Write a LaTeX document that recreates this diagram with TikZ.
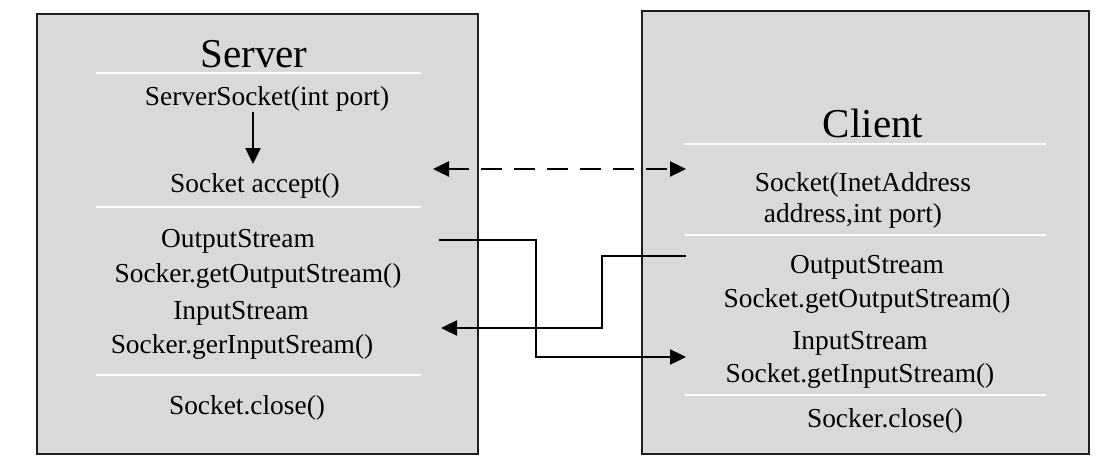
\documentclass[tikz,border=0pt]{standalone}
\usepackage{fontspec}
\setmainfont{Liberation Serif}
\usetikzlibrary{arrows.meta}
\definecolor{boxgray}{HTML}{D9D9D9}
\definecolor{edge}{HTML}{1E1E1E}
\tikzset{
  panel/.style={draw=edge, line width=1.5pt, fill=boxgray},
  sep/.style={draw=white, line width=1.5pt},
  txt/.style={anchor=base, inner sep=0pt, font=\fontsize{27.4}{30}\selectfont},
  ttl/.style={anchor=base, inner sep=0pt, font=\fontsize{41}{45}\selectfont},
  conn/.style={draw=black, line width=2.4pt, -{Triangle[length=16pt,width=15pt]}},
  dconn/.style={draw=black, line width=2.4pt, dash pattern=on 21pt off 12pt, {Triangle[length=16pt,width=15pt]}-{Triangle[length=16pt,width=15pt]}}
}
\begin{document}
\begin{tikzpicture}[x=1pt,y=-1pt]
\useasboundingbox (0,0) rectangle (1113,468);
% panels
\path[panel] (37,14) rectangle (478,454);
\path[panel] (642,11) rectangle (1089,454);
% separators
\draw[sep] (96,73) -- (421,73);
\draw[sep] (96,207) -- (421,207);
\draw[sep] (96,375) -- (421,375);
\draw[sep] (685,144) -- (1046,144);
\draw[sep] (685,235) -- (1046,235);
\draw[sep] (685,395) -- (1046,395);
% server texts
\node[ttl] (srv) at (254,68) {Server};
\node[txt] (ssock) at (267,106) {ServerSocket(int port)};
\node[txt] (accept) at (255,192) {Socket accept()};
\node[txt] (sout) at (238,247) {OutputStream};
\node[txt] (sgetout) at (258,282) {Socker.getOutputStream()};
\node[txt] (sin) at (241,319) {InputStream};
\node[txt] (sgetin) at (242,353) {Socker.gerInputSream()};
\node[txt] (sclose) at (247,414) {Socket.close()};
% client texts
\node[ttl] (cli) at (873,137) {Client};
\node[txt] (csock1) at (863,191) {Socket(InetAddress};
\node[txt] (csock2) at (853,222) {address,int port)};
\node[txt] (cout) at (867,273) {OutputStream};
\node[txt] (cgetout) at (867,307) {Socket.getOutputStream()};
\node[txt] (cin) at (860,349) {InputStream};
\node[txt] (cgetin) at (860,382) {Socket.getInputStream()};
\node[txt] (cclose) at (885,427) {Socker.close()};
% connector end points
\coordinate (a1) at (253,112);
\coordinate (a2) at (253,164);
\coordinate (d1) at (433,169);
\coordinate (d2) at (686,169);
\coordinate (o1) at (439,240);
\coordinate (o2) at (686,357);
\coordinate (i1) at (686,256);
\coordinate (i2) at (441,328);
% connectors
\draw[conn] (a1) -- (a2);
\draw[dconn] (d1) -- (d2);
\draw[conn] (o1) -| (536,357) -- (o2);
\draw[conn] (i1) -| (602,328) -- (i2);
\end{tikzpicture}
\end{document}
